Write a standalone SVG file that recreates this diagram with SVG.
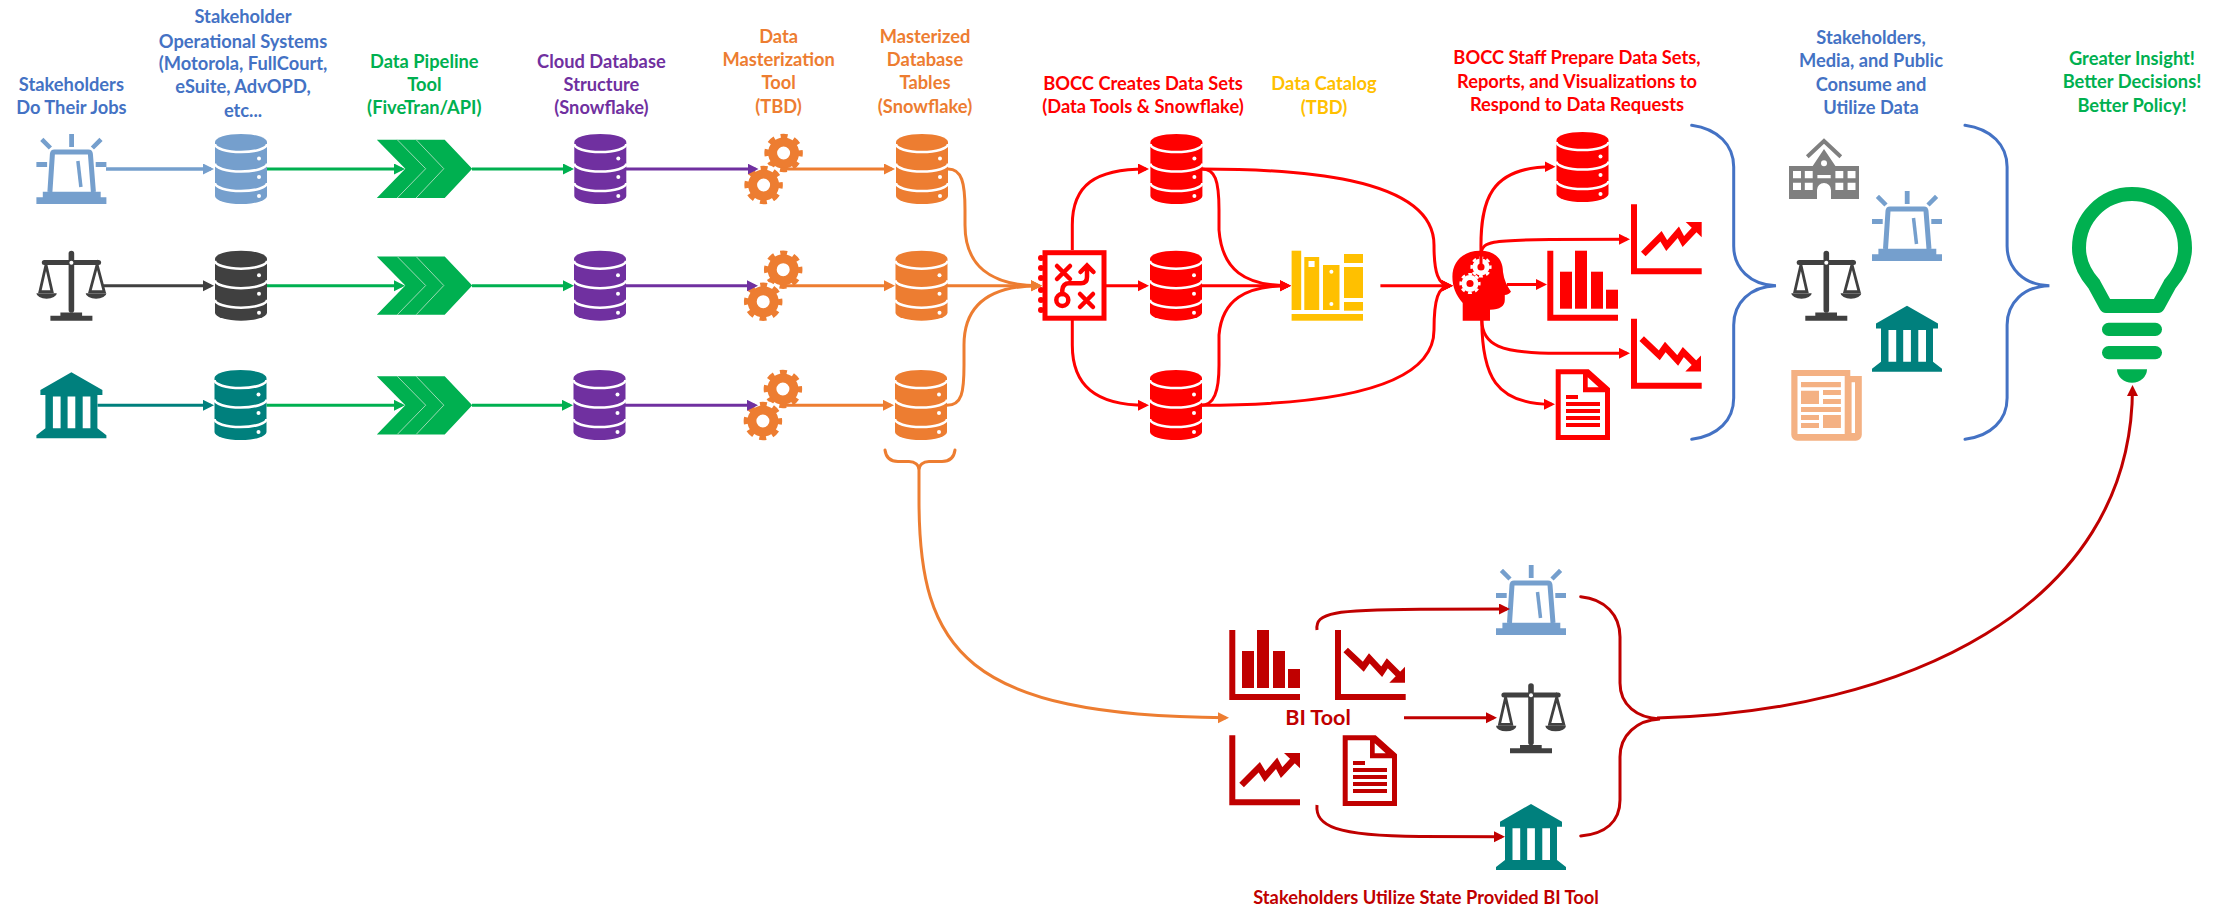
<svg xmlns="http://www.w3.org/2000/svg" width="2224" height="907" viewBox="0 0 2224 907">
<style>
text{font-family:"Lato","Open Sans","Liberation Sans",sans-serif;font-weight:700;font-size:18.3px;text-anchor:middle}
.lb{color:#759FCD}.dk{color:#404040}.te{color:#00807D}.gr{color:#00B050}.pu{color:#7030A0}.or{color:#ED7D31}.re{color:#FF0000}.dr{color:#C00000}.ye{color:#FFC000}.gy{color:#7F7F7F}.lo{color:#F4B183}
.tb{fill:#4472C4}.tg{fill:#00B050}.tp{fill:#7030A0}.to{fill:#ED7D31}.tr{fill:#FF0000}.ty{fill:#FFC000}.td{fill:#C00000}
.c{fill:none;stroke-width:3}
.c-lb{stroke:#759FCD;marker-end:url(#a-lb);stroke-width:3.5}.c-dk{stroke:#404040;marker-end:url(#a-dk)}.c-te{stroke:#00807D;marker-end:url(#a-te)}.c-gr{stroke:#00B050;marker-end:url(#a-gr)}.c-pu{stroke:#7030A0;marker-end:url(#a-pu)}.c-or{stroke:#ED7D31;marker-end:url(#a-or)}.c-re{stroke:#FF0000;marker-end:url(#a-re)}.c-dr{stroke:#C00000;marker-end:url(#a-dr)}
.b{fill:none;stroke-width:3;stroke-linecap:round}
</style>
<defs>
<marker id="a-lb" markerUnits="userSpaceOnUse" markerWidth="12" markerHeight="12" refX="8" refY="5.5" orient="auto"><path d="M0,0L11,5.5L0,11Z" fill="#759FCD"/></marker>
<marker id="a-dk" markerUnits="userSpaceOnUse" markerWidth="12" markerHeight="12" refX="8" refY="5.5" orient="auto"><path d="M0,0L11,5.5L0,11Z" fill="#404040"/></marker>
<marker id="a-te" markerUnits="userSpaceOnUse" markerWidth="12" markerHeight="12" refX="8" refY="5.5" orient="auto"><path d="M0,0L11,5.5L0,11Z" fill="#00807D"/></marker>
<marker id="a-gr" markerUnits="userSpaceOnUse" markerWidth="12" markerHeight="12" refX="8" refY="5.5" orient="auto"><path d="M0,0L11,5.5L0,11Z" fill="#00B050"/></marker>
<marker id="a-pu" markerUnits="userSpaceOnUse" markerWidth="12" markerHeight="12" refX="8" refY="5.5" orient="auto"><path d="M0,0L11,5.5L0,11Z" fill="#7030A0"/></marker>
<marker id="a-or" markerUnits="userSpaceOnUse" markerWidth="12" markerHeight="12" refX="8" refY="5.5" orient="auto"><path d="M0,0L11,5.5L0,11Z" fill="#ED7D31"/></marker>
<marker id="a-re" markerUnits="userSpaceOnUse" markerWidth="12" markerHeight="12" refX="8" refY="5.5" orient="auto"><path d="M0,0L11,5.5L0,11Z" fill="#FF0000"/></marker>
<marker id="a-dr" markerUnits="userSpaceOnUse" markerWidth="12" markerHeight="12" refX="8" refY="5.5" orient="auto"><path d="M0,0L11,5.5L0,11Z" fill="#C00000"/></marker>
<g id="db">
<path d="M0,8A26,8 0 0 1 52,8V62A26,8 0 0 1 0,62Z" fill="currentColor"/>
<path d="M0,10A26,8 0 0 0 52,10M0,29.5A26,8 0 0 0 52,29.5M0,49A26,8 0 0 0 52,49" fill="none" stroke="#fff" stroke-width="2.6"/>
<circle cx="44" cy="24.5" r="2" fill="#fff"/><circle cx="44" cy="43" r="2" fill="#fff"/><circle cx="44" cy="62" r="2" fill="#fff"/>
</g>
<g id="alert">
<path d="M32.8,0h4.800v13h-4.800zM0,28h10.700v5H0zM59.300,28H70v5H59.300z" fill="currentColor"/>
<path d="M5.400,5.300L14,14M64.600,5.300L56,14" stroke="currentColor" stroke-width="4.500" fill="none"/>
<path d="M13.500,58L16,20Q16.200,18 18,18H52Q53.800,18 54,20L57,58" fill="none" stroke="currentColor" stroke-width="5"/>
<path d="M41.500,27L44.500,53" stroke="currentColor" stroke-width="3.500" fill="none"/>
<path d="M6.400,57.700H64.300V63.300H70V70H0V63.300H6.400Z" fill="currentColor"/>
</g>
<g id="scale">
<rect x="32.200" y="0" width="5.600" height="62" rx="2.800" fill="currentColor"/>
<rect x="5.400" y="9.200" width="59.300" height="5" rx="2.500" fill="currentColor"/>
<circle cx="35" cy="12" r="2" fill="#fff"/>
<path d="M9.600,14L3.500,41H15.700ZM60.700,14L53.500,41H67.800Z" fill="none" stroke="currentColor" stroke-width="2.800"/>
<path d="M0,42.500H20.400A10.200,5.500 0 0 1 0,42.500ZM49.300,42.500H70A10.300,5.500 0 0 1 49.300,42.500ZM24,61.700H45.700V65H56V70H14V65H24Z" fill="currentColor"/>
</g>
<g id="bank">
<path d="M35,0L66,17.700V22.700H61V56L70,63V66H0V63L9,56V22.700H4V17.700Z" fill="currentColor"/>
<path d="M16.500,24.300h7.700V56h-7.700zM31.200,24.300h7.700V56h-7.700zM46.300,24.300h7.700V56h-7.700z" fill="#fff"/>
</g>
<g id="bars" fill="currentColor">
<path d="M0,0H6V64H70.700V70H0Z"/><rect x="12.700" y="21" width="12" height="37"/><rect x="27.700" y="0" width="12" height="58"/><rect x="43.700" y="21" width="12" height="37"/><rect x="58.700" y="39" width="12" height="19"/>
</g>
<g id="down">
<path d="M0,0H6V64H70.700V70H0Z" fill="currentColor"/>
<path d="M10.700,20L28.300,36.700L34.300,28.300L46.700,41.700L52.300,33.300L65,46" fill="none" stroke="currentColor" stroke-width="6.500"/>
<path d="M70,36.700V52.700H54.300Z" fill="currentColor"/>
</g>
<g id="up">
<path d="M0,0H6V64H70.700V70H0Z" fill="currentColor"/>
<path d="M12.300,49.700L30,32L35.700,41.300L47.300,28L52.300,37.300L65.700,23" fill="none" stroke="currentColor" stroke-width="6.500"/>
<path d="M70.700,17.700V33L54.700,17.700Z" fill="currentColor"/>
</g>
<g id="doc">
<path fill-rule="evenodd" fill="currentColor" d="M0,0H33L54.300,19V70.700H0ZM5,5V65.700H49.300V23H27.300V5ZM32,8V18H43Z"/>
<path d="M10.300,25.700h12v4h-12zM10.300,32.700h34v4h-34zM10.300,39.700h34v4h-34zM10.300,46.700h34v4h-34zM10.300,53.700h34v4h-34z" fill="currentColor"/>
</g>
<g id="gear" fill="none" stroke="currentColor">
<circle r="11" stroke-width="9"/>
<circle r="17" stroke-width="4.500" stroke-dasharray="7 6.350" stroke-dashoffset="3.500"/>
</g>
<g id="gears">
<use href="#gear" x="20" y="-32"/>
<circle r="20.500" fill="#fff"/>
<use href="#gear"/>
</g>
<g id="chev">
<path d="M0,0H67.900L95.400,29L67.900,58.300H0L28.500,29Z" fill="#00B050"/>
<path d="M20.400,0L48.900,29L20.400,58.300M39.300,0L67,29L39.300,58.300" fill="none" stroke="#9BD9B4" stroke-width="1"/>
</g>
</defs>

<g id="labels">
<text class="tb" x="71.400" y="90.600">Stakeholders</text><text class="tb" x="71.400" y="113.500">Do Their Jobs</text>
<text class="tb" x="243" y="23.300">Stakeholder</text><text class="tb" x="243" y="47.700">Operational Systems</text><text class="tb" x="243" y="70">(Motorola, FullCourt,</text><text class="tb" x="243" y="93.300">eSuite, AdvOPD,</text><text class="tb" x="243" y="117">etc...</text>
<text class="tg" x="424.300" y="67.700">Data Pipeline</text><text class="tg" x="424.300" y="90.600">Tool</text><text class="tg" x="424.300" y="113.500">(FiveTran/API)</text>
<text class="tp" x="601.400" y="67.700">Cloud Database</text><text class="tp" x="601.400" y="90.600">Structure</text><text class="tp" x="601.400" y="113.500">(Snowflake)</text>
<text class="to" x="778.600" y="43.300">Data</text><text class="to" x="778.600" y="66.300">Masterization</text><text class="to" x="778.600" y="89.300">Tool</text><text class="to" x="778.600" y="113.300">(TBD)</text>
<text class="to" x="925" y="43.300">Masterized</text><text class="to" x="925" y="66.300">Database</text><text class="to" x="925" y="89.300">Tables</text><text class="to" x="925" y="113.300">(Snowflake)</text>
<text class="tr" x="1143" y="90">BOCC Creates Data Sets</text><text class="tr" x="1143" y="113">(Data Tools &amp; Snowflake)</text>
<text class="ty" x="1324" y="90">Data Catalog</text><text class="ty" x="1324" y="113.500">(TBD)</text>
<text class="tr" x="1577" y="64">BOCC Staff Prepare Data Sets,</text><text class="tr" x="1577" y="88">Reports, and Visualizations to</text><text class="tr" x="1577" y="111.300">Respond to Data Requests</text>
<text class="tb" x="1871" y="44">Stakeholders,</text><text class="tb" x="1871" y="67.300">Media, and Public</text><text class="tb" x="1871" y="91.300">Consume and</text><text class="tb" x="1871" y="114.300">Utilize Data</text>
<text class="tg" x="2132" y="65">Greater Insight!</text><text class="tg" x="2132" y="88.300">Better Decisions!</text><text class="tg" x="2132" y="112.300">Better Policy!</text>
<text class="td" x="1318" y="725" style="font-size:21.500px">BI Tool</text>
<text class="td" x="1426" y="904">Stakeholders Utilize State Provided BI Tool</text>
</g>

<g id="sources">
<g id="src-alert" class="lb"><use href="#alert" x="36.400" y="134"/></g>
<g id="src-scale" class="dk"><use href="#scale" x="36.400" y="250.700"/></g>
<g id="src-bank" class="te"><use href="#bank" x="36.400" y="372.300"/></g>
</g>
<g id="operational">
<g id="op-1" class="lb"><use href="#db" x="215" y="134"/></g>
<g id="op-2" class="dk"><use href="#db" x="215" y="250.700"/></g>
<g id="op-3" class="te"><use href="#db" x="214.500" y="370"/></g>
</g>
<g id="pipeline">
<g id="pipe-1"><use href="#chev" x="376.800" y="139.700"/></g>
<g id="pipe-2"><use href="#chev" x="376.800" y="256.500"/></g>
<g id="pipe-3"><use href="#chev" x="376.800" y="376.200"/></g>
</g>
<g id="cloud">
<g id="cl-1" class="pu"><use href="#db" x="574.300" y="134"/></g>
<g id="cl-2" class="pu"><use href="#db" x="574" y="250.700"/></g>
<g id="cl-3" class="pu"><use href="#db" x="573.500" y="370"/></g>
</g>
<g id="master">
<g id="ma-1" class="or"><use href="#gears" x="763.600" y="185"/></g>
<g id="ma-2" class="or"><use href="#gears" x="763.200" y="301.700"/></g>
<g id="ma-3" class="or"><use href="#gears" x="762.900" y="421"/></g>
</g>
<g id="tables">
<g id="tb-1" class="or"><use href="#db" x="896" y="134"/></g>
<g id="tb-2" class="or"><use href="#db" x="895.500" y="250.700"/></g>
<g id="tb-3" class="or"><use href="#db" x="895" y="370"/></g>
</g>
<g id="strategy" class="re">
<rect x="1045" y="252.700" width="59" height="65.500" fill="#fff" stroke="currentColor" stroke-width="5"/>
<g fill="currentColor"><circle cx="1041" cy="258" r="3"/><circle cx="1041" cy="268" r="3"/><circle cx="1041" cy="278" r="3"/><circle cx="1041" cy="290" r="3"/><circle cx="1041" cy="300" r="3"/><circle cx="1041" cy="310" r="3"/></g>
<g fill="none" stroke="currentColor" stroke-width="4.500" stroke-linecap="round">
<path d="M1057,266L1070,279M1070,266L1057,279M1080,294L1093,307M1093,294L1080,307"/>
<circle cx="1062.300" cy="300" r="6"/>
<path d="M1062.300,294V290Q1063,283.300 1069,283.300H1081Q1087,283.300 1087,277V266M1080.500,272L1087,265.500L1093.500,272"/>
</g>
</g>
<g id="datasets">
<g id="ds-1" class="re"><use href="#db" x="1150.400" y="134"/></g>
<g id="ds-2" class="re"><use href="#db" x="1150" y="250.700"/></g>
<g id="ds-3" class="re"><use href="#db" x="1150" y="370"/></g>
</g>
<g id="catalog" class="ye" fill="#FFC000">
<rect x="1291.600" y="250.700" width="9.600" height="59.300"/>
<path d="M1304.300,257H1319.200V310H1304.300ZM1308.500,261V267H1314.600V261Z" fill-rule="evenodd"/>
<rect x="1323" y="265" width="16.500" height="45"/>
<circle cx="1331.400" cy="271.700" r="2" fill="#fff"/><circle cx="1331.400" cy="304" r="2" fill="#fff"/>
<rect x="1344" y="254" width="19" height="9"/><rect x="1344" y="267" width="19" height="31"/><rect x="1344" y="302" width="19" height="8.700"/>
<rect x="1291.600" y="314" width="71.400" height="6.700"/>
</g>
<g id="brain" class="re">
<path fill="currentColor" d="M1462.700,320.700V303C1456,295 1452.400,287 1452.400,276.700C1452.400,261 1464,250.700 1480,250.700C1495,250.700 1503,259 1503,272C1504,280 1507,286 1511,291.700C1509,294 1507,295 1504.800,295V300C1504.800,306 1500,309.700 1490,309.700V320.700Z"/>
<g style="color:#fff"><use href="#gear" transform="translate(1481 267) scale(.55)"/><use href="#gear" transform="translate(1470 283.500) scale(.55)"/></g>
</g>
<g id="outputs">
<g id="out-db" class="re"><use href="#db" x="1556.500" y="132"/></g>
<g id="out-bars" class="re"><use href="#bars" x="1547.300" y="250.700"/></g>
<g id="out-up" class="re"><use href="#up" x="1631" y="204.300"/></g>
<g id="out-down" class="re"><use href="#down" x="1631" y="318.700"/></g>
<g id="out-doc" class="re"><use href="#doc" x="1555.700" y="369.300"/></g>
</g>
<g id="audience">
<g id="aud-school" class="gy">
<path d="M1807.300,156.700L1824,141L1840.800,156.700" fill="none" stroke="currentColor" stroke-width="4"/>
<path fill="currentColor" fill-rule="evenodd" d="M1812.700,166L1824,149L1835.400,166H1859V199H1831V190A7,7 0 0 0 1817,190V199H1789V166ZM1793,171V178.300H1801V171ZM1804.800,171V178.300H1812.700V171ZM1835.400,171V178.300H1843.300V171ZM1847.600,171V178.300H1855.500V171ZM1793,182.700V190H1801V182.700ZM1804.800,182.700V190H1812.700V182.700ZM1835.400,182.700V190H1843.300V182.700ZM1847.600,182.700V190H1855.500V182.700ZM1817.400,175V178.300H1830.700V175Z"/>
<circle cx="1824" cy="163.300" r="3" fill="#fff"/>
</g>
<g id="aud-alert" class="lb"><use href="#alert" x="1872" y="191"/></g>
<g id="aud-scale" class="dk"><use href="#scale" x="1791.300" y="250.700"/></g>
<g id="aud-bank" class="te"><use href="#bank" x="1872" y="305.700"/></g>
<g id="aud-news" class="lo">
<path d="M1791.300,370H1850.300V376H1861.800V434.700A6,6 0 0 1 1855.800,440.700H1797.300A6,6 0 0 1 1791.300,434.700Z" fill="currentColor"/>
<path d="M1797.500,376H1844.700V434H1797.500ZM1851.600,382.300H1855V433H1851.600Z" fill="#fff"/>
<path d="M1801,382h39.900v5.300H1801ZM1801,390.700h18v13.300H1801ZM1823,390h17.900v5H1823ZM1823,399h17.900v5H1823ZM1801,407h39.900v5H1801ZM1801,415h18v5H1801ZM1801,423h18v5H1801ZM1823,415h17.900v13H1823Z" fill="currentColor"/>
</g>
</g>
<g id="bulb" class="gr">
<path d="M2106,306L2094,284Q2079,267 2079,248A53,54 0 0 1 2185,248Q2185,267 2170,284L2158,306Z" fill="none" stroke="currentColor" stroke-width="14" stroke-linejoin="round"/>
<rect x="2102" y="322.700" width="60" height="13.300" rx="6.600" fill="currentColor"/>
<rect x="2102" y="346" width="60" height="13.300" rx="6.600" fill="currentColor"/>
<path d="M2117,369.300H2147A15,13.400 0 0 1 2117,369.300Z" fill="currentColor"/>
</g>
<g id="bi-tool">
<g id="bi-bars" class="dr"><use href="#bars" x="1229.300" y="630"/></g>
<g id="bi-down" class="dr"><use href="#down" x="1335" y="630"/></g>
<g id="bi-up" class="dr"><use href="#up" x="1229.300" y="735.300"/></g>
<g id="bi-doc" class="dr"><use href="#doc" x="1342.700" y="735.300"/></g>
</g>
<g id="bi-users">
<g id="bi-alert" class="lb"><use href="#alert" x="1496" y="565"/></g>
<g id="bi-scale" class="dk"><use href="#scale" x="1496" y="683.300"/></g>
<g id="bi-bank" class="te"><use href="#bank" x="1496" y="804"/></g>
</g>

<g id="connectors">
<path class="c c-lb" d="M106,169H211"/>
<path class="c c-dk" d="M102.500,285.700H211"/>
<path class="c c-te" d="M97.500,405.300H211"/>
<path class="c c-gr" d="M267,169H402"/>
<path class="c c-gr" d="M267,285.700H402"/>
<path class="c c-gr" d="M266.500,405.300H402"/>
<path class="c c-gr" d="M472,169H571"/>
<path class="c c-gr" d="M472,285.700H571"/>
<path class="c c-gr" d="M472,405.300H570"/>
<path class="c c-pu" d="M626,169H755.500"/>
<path class="c c-pu" d="M626,285.700H755"/>
<path class="c c-pu" d="M625,405.300H755"/>
<path class="c c-or" d="M786,169H892"/>
<path class="c c-or" d="M786,285.700H892"/>
<path class="c c-or" d="M785,405.300H891"/>
<path class="c c-or" d="M948,169C962,169 965,183 965,210V225C965,265 990,285.700 1039,285.700"/>
<path class="c c-or" d="M947,285.700H1039"/>
<path class="c c-or" d="M947,405.300C962,405.300 964,392 964,365V345C964,305 990,285.700 1039,285.700"/>
<path class="c c-re" d="M1072.300,250V225C1072.300,185 1095,169 1146,169"/>
<path class="c c-re" d="M1106,285.700H1146"/>
<path class="c c-re" d="M1072.300,320V345C1072.300,385 1095,405.300 1146,405.300"/>
<path class="c c-re" d="M1202,169C1215,169 1219,180 1219,210V230C1222,270 1245,285.700 1288,285.700"/>
<path class="c c-re" d="M1202,285.700H1288"/>
<path class="c c-re" d="M1201,405.300C1214,405.300 1219,392 1219,365V335C1222,300 1245,285.700 1288,285.700"/>
<path class="c c-re" d="M1202,169C1290,169 1434,175 1434,245C1434,272 1438,285.700 1450,285.700"/>
<path class="c c-re" d="M1201,405.300C1290,405.300 1434,398 1434,330C1434,300 1438,285.700 1450,285.700"/>
<path class="c c-re" d="M1380.400,285.700H1450"/>
<path class="c c-re" d="M1481,267V252C1480,200 1490,166.700 1552.500,166.700"/>
<path class="c c-re" d="M1481,252C1484,242 1490,240 1550,239.500L1627,239.300"/>
<path class="c c-re" d="M1507,284.500H1544"/>
<path class="c c-re" d="M1481.800,320C1482,345 1500,353.300 1558,353.300H1627"/>
<path class="c c-re" d="M1481.800,320C1482,375 1495,404.300 1552,404.300"/>
<path class="b" stroke="#4472C4" d="M1691.700,125.300C1718,129 1733.700,145 1733.700,167V246C1733.700,268 1750,285 1776,285.700C1750,286.400 1733.700,303 1733.700,325V398C1733.700,420 1718,436 1691.700,439.300"/>
<path class="b" stroke="#4472C4" d="M1965,125.300C1991.300,129 2007.100,145 2007.100,167V246C2007.100,268 2023.400,285 2049.400,285.700C2023.400,286.400 2007.100,303 2007.100,325V398C2007.100,420 1991.300,436 1965,439.300"/>
<path class="b" stroke="#ED7D31" d="M885,450C886,458 890,461.500 898,461.500H909C915,461.500 919,465 919,470C919,465 923,461.500 929,461.500H942C950,461.500 954,458 955,450"/>
<path class="c c-or" d="M919,470V500C919,650 965,716 1226,717.700"/>
<path class="c c-dr" d="M1317,630C1315,612 1335,610 1420,609.300L1507,609"/>
<path class="c c-dr" d="M1404,717.700H1494"/>
<path class="c c-dr" d="M1317,805C1315,826 1335,836 1420,836.500L1502,836.700"/>
<path class="b" stroke="#C00000" d="M1580.700,596.700C1605,599 1620,615 1620,637V683C1620,705 1637,718 1660,719C1637,720 1620,735 1620,757V800C1620,822 1605,834 1580.700,836"/>
<path class="c c-dr" d="M1657,718C1900,712 2132,610 2132.500,388"/>
</g>
</svg>
